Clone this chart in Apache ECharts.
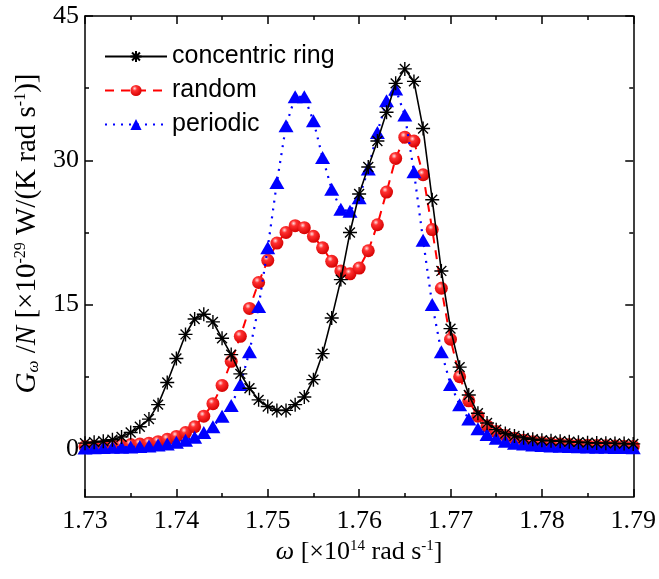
<!DOCTYPE html>
<html>
<head>
<meta charset="utf-8">
<script src="https://cdn.jsdelivr.net/npm/echarts@6/dist/echarts.min.js"></script>
<style>
    html, body { margin: 0; padding: 0; background: #fff; }
    #main { width: 659px; height: 579px; }
</style>
</head>
<body>
<div id="main"></div>
<script>
//横轴 omega [x10^14 rad/s]
var omega = [1.730, 1.731, 1.732, 1.733, 1.734, 1.735, 1.736, 1.737, 1.738, 1.739,
    1.740, 1.741, 1.742, 1.743, 1.744, 1.745, 1.746, 1.747, 1.748, 1.749,
    1.750, 1.751, 1.752, 1.753, 1.754, 1.755, 1.756, 1.757, 1.758, 1.759,
    1.760, 1.761, 1.762, 1.763, 1.764, 1.765, 1.766, 1.767, 1.768, 1.769,
    1.770, 1.771, 1.772, 1.773, 1.774, 1.775, 1.776, 1.777, 1.778, 1.779,
    1.780, 1.781, 1.782, 1.783, 1.784, 1.785, 1.786, 1.787, 1.788, 1.789, 1.790];

var ringVal = [0.6, 0.7, 0.8, 0.95, 1.25, 1.7, 2.3, 3.1, 4.6, 6.9,
    9.4, 11.9, 13.5, 14.0, 13.2, 11.5, 9.8, 7.8, 6.3, 5.1,
    4.4, 4.0, 4.0, 4.6, 5.4, 7.2, 9.9, 13.6, 17.6, 22.5,
    26.5, 29.3, 32.0, 35.0, 38.0, 39.5, 38.2, 33.3, 25.9, 18.5,
    12.5, 8.5, 5.6, 3.7, 2.7, 2.0, 1.6, 1.35, 1.15, 1.0,
    0.9, 0.85, 0.8, 0.75, 0.7, 0.65, 0.62, 0.6, 0.57, 0.55, 0.52];

var randomVal = [0.25, 0.28, 0.3, 0.35, 0.4, 0.45, 0.5, 0.6, 0.75, 1.0,
    1.3, 1.7, 2.3, 3.4, 4.7, 6.6, 9.1, 11.7, 14.6, 17.3,
    19.6, 21.4, 22.5, 23.2, 23.0, 22.1, 20.9, 19.5, 18.5, 18.2,
    18.8, 20.6, 23.3, 26.7, 30.2, 32.4, 32.0, 28.5, 22.8, 16.7,
    11.4, 7.5, 5.0, 3.4, 2.4, 1.8, 1.4, 1.1, 0.9, 0.75,
    0.65, 0.55, 0.5, 0.45, 0.4, 0.38, 0.35, 0.32, 0.3, 0.28, 0.26];

var periodicVal = [0.1, 0.12, 0.14, 0.16, 0.18, 0.2, 0.25, 0.3, 0.4, 0.5,
    0.7, 0.9, 1.2, 1.7, 2.3, 3.4, 4.5, 6.7, 10.1, 14.8,
    20.9, 27.7, 33.6, 36.6, 36.6, 34.1, 30.3, 27.0, 24.9, 24.7,
    26.1, 29.1, 32.9, 36.2, 37.4, 34.7, 28.8, 21.7, 15.0, 10.1,
    6.7, 4.6, 3.1, 2.1, 1.5, 1.1, 0.8, 0.6, 0.5, 0.4,
    0.35, 0.3, 0.27, 0.24, 0.22, 0.2, 0.18, 0.16, 0.15, 0.14, 0.13];

var seriesNames = ['concentric ring', 'random', 'periodic'];
var yMajorTicks = [0, 15, 30, 45];
var yMinorTicks = [7.5, 22.5, 37.5];

function pairs(xs, ys) {
    var out = [];
    for (var i = 0; i < xs.length; i++) {
        out.push([xs[i], ys[i]]);
    }
    return out;
}

var serif = '"Liberation Serif", "Times New Roman", serif';
var sans = '"Liberation Sans", Arial, sans-serif';
var starPath = 'path://M0,-10L0,10M-10,0L10,0M-7.07,-7.07L7.07,7.07M-7.07,7.07L7.07,-7.07';

var myChart = echarts.init(document.getElementById('main'));

// x轴（上下两条）
function xAxisCfg(pos, showLabel) {
    return {
        type: 'value',
        position: pos,
        min: 1.73,
        max: 1.79,
        interval: 0.01,
        axisLine: { show: true, onZero: false, lineStyle: { color: '#000', width: 1.5 } },
        axisTick: { show: true, inside: true, length: 8, lineStyle: { color: '#000', width: 1.5 } },
        minorTick: { show: true, splitNumber: 2, length: 4, lineStyle: { color: '#000', width: 1.5 } },
        axisLabel: {
            show: showLabel,
            margin: 11,
            color: '#000',
            fontFamily: serif,
            fontSize: 26,
            formatter: function (v) { return v.toFixed(2); }
        },
        splitLine: { show: false }
    };
}

// y轴：主刻度 / 次刻度分开画
function yAxisCfg(pos, ticks, len, showLine, showLabel) {
    return {
        type: 'value',
        position: pos,
        min: -5,
        max: 45,
        axisLine: { show: showLine, onZero: false, lineStyle: { color: '#000', width: 1.5 } },
        axisTick: { show: true, inside: true, length: len, customValues: ticks, lineStyle: { color: '#000', width: 1.5 } },
        axisLabel: {
            show: showLabel,
            customValues: yMajorTicks,
            margin: 6,
            color: '#000',
            fontFamily: serif,
            fontSize: 26
        },
        splitLine: { show: false }
    };
}

var xBottom = xAxisCfg('bottom', true);
xBottom.name = '{i|ω} [×10{sup|14} rad s{sup|-1}]';
xBottom.nameLocation = 'middle';
xBottom.nameGap = 42;
xBottom.nameTextStyle = {
    color: '#000', fontFamily: serif, fontSize: 26,
    rich: {
        i: { fontStyle: 'italic', fontFamily: serif, fontSize: 26, color: '#000' },
        sup: { fontFamily: serif, fontSize: 15, verticalAlign: 'top', lineHeight: 15, color: '#000' }
    }
};

var yLeft = yAxisCfg('left', yMajorTicks, 8, true, true);
yLeft.name = '{i|G}{sub|ω} /{i|N} [×10{sup|-29} W/(K rad s{sup|-1})]';
yLeft.nameLocation = 'middle';
yLeft.nameGap = 34;
yLeft.nameTextStyle = {
    color: '#000', fontFamily: serif, fontSize: 29,
    padding: [0, 0, 0, 46],
    rich: {
        i: { fontStyle: 'italic', fontFamily: serif, fontSize: 29, color: '#000' },
        sub: { fontStyle: 'italic', fontFamily: serif, fontSize: 17, verticalAlign: 'bottom', lineHeight: 17, color: '#000' },
        sup: { fontFamily: serif, fontSize: 16, verticalAlign: 'top', lineHeight: 16, color: '#000' }
    }
};

option = {
    backgroundColor: '#fff',
    animation: false,
    grid: { left: 85, right: 25, top: 16, bottom: 82 },
    legend: {
        data: seriesNames,
        orient: 'vertical',
        left: 99,
        top: 39,
        itemWidth: 62,
        itemHeight: 14,
        itemGap: 9,
        textStyle: { color: '#000', fontFamily: sans, fontSize: 25 }
    },
    xAxis: [xBottom, xAxisCfg('top', false)],
    yAxis: [
        yLeft,
        yAxisCfg('left', yMinorTicks, 4, false, false),
        yAxisCfg('right', yMajorTicks, 8, true, false),
        yAxisCfg('right', yMinorTicks, 4, false, false)
    ],
    series: [
        {
            name: 'concentric ring',
            type: 'line',
            z: 4,
            data: pairs(omega, ringVal),
            symbol: starPath,
            symbolSize: 14,
            itemStyle: { color: 'rgba(0,0,0,0)', borderColor: '#000', borderWidth: 1.4 },
            lineStyle: { color: '#000', width: 1.6, type: 'solid' }
        },
        {
            name: 'random',
            type: 'line',
            z: 2,
            data: pairs(omega, randomVal),
            symbol: 'circle',
            symbolSize: 13,
            itemStyle: {
                color: {
                    type: 'radial', x: 0.38, y: 0.32, r: 0.7,
                    colorStops: [
                        { offset: 0, color: '#ffe0e0' },
                        { offset: 0.3, color: '#ff3030' },
                        { offset: 1, color: '#d40000' }
                    ]
                },
                borderWidth: 0
            },
            lineStyle: { color: '#ff0000', width: 2, type: [9, 7] }
        },
        {
            name: 'periodic',
            type: 'line',
            z: 3,
            data: pairs(omega, periodicVal),
            symbol: 'triangle',
            symbolSize: [15, 13],
            itemStyle: { color: '#0000ff' },
            lineStyle: { color: '#0000ff', width: 2.2, type: [2, 6] }
        }
    ]
};
myChart.setOption(option);
</script>
</body>
</html>
